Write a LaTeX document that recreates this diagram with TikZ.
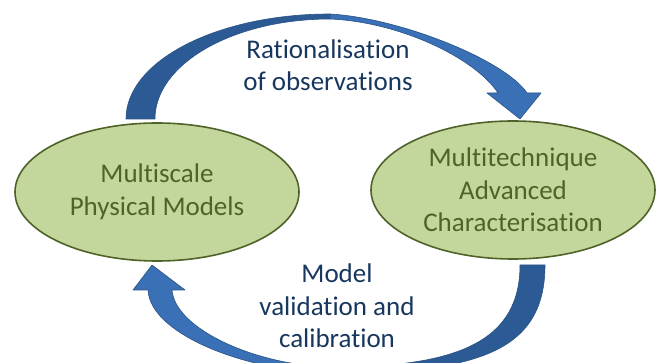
\documentclass[tikz,border=0pt]{standalone}
\usepackage{fontspec}
\setmainfont{Carlito}[Ligatures=NoCommon]
\usetikzlibrary{shapes.geometric}
\definecolor{olivefill}{HTML}{C3D69B}
\definecolor{olivedark}{HTML}{4F6228}
\definecolor{navytext}{HTML}{17375E}
\definecolor{arrowdark}{HTML}{2C5A94}
\definecolor{arrowlight}{HTML}{3A70B5}
\definecolor{arrowedge}{HTML}{2A5386}
\tikzset{
  blob/.style={ellipse, draw=olivedark, fill=olivefill, line width=1.6pt, inner sep=0pt,
    minimum width=284pt, minimum height=138pt, text=olivedark, align=center,
    font=\fontsize{27}{32.5}\selectfont},
  caption/.style={text=navytext, align=center, font=\fontsize{27}{32.5}\selectfont},
  ribbon/.style={draw=arrowedge, line width=0.6pt, line join=round}
}
\begin{document}
\begin{tikzpicture}[x=1pt,y=-1pt]
    \useasboundingbox (0,0) rectangle (664,363);
    % upper arrow
    \path[ribbon, fill=arrowdark] (126,119) .. controls (126,61) and (217,14) .. (330,14)
        -- (330,19) .. controls (233,19) and (155,64) .. (155,119) -- cycle;
    \path[ribbon, fill=arrowlight] (330,14) .. controls (400,18) and (505,60) .. (527,93)
        -- (541,93) -- (520,119) -- (487,93) -- (498,93)
        .. controls (475,58) and (400,22) .. (330,19) -- cycle;
    % lower arrow
    \begin{scope}
        \clip (0,0) rectangle (664,363);
        \path[ribbon, fill=arrowdark] (520,265) -- (545,265) .. controls (545,350) and (480,373) .. (335,373)
            -- (335,367) .. controls (460,367) and (520,340) .. (520,265) -- cycle;
        \path[ribbon, fill=arrowlight] (335,373) .. controls (250,373) and (150,335) .. (148,290)
            -- (133,290) -- (152,265) -- (185,290) -- (172,290)
            .. controls (175,330) and (260,367) .. (335,367) -- cycle;
    \end{scope}

    \node[blob] (physmod) at (157,192) {Multiscale\\Physical Models};
    \node[blob] (charac) at (513,190) {Multitechnique\\Advanced\\Characterisation};
    \node[caption] (ration) at (328,65) {Rationalisation\\of observations};
    \node[caption] (valid) at (337,306) {Model\\validation and\\calibration};
\end{tikzpicture}
\end{document}
